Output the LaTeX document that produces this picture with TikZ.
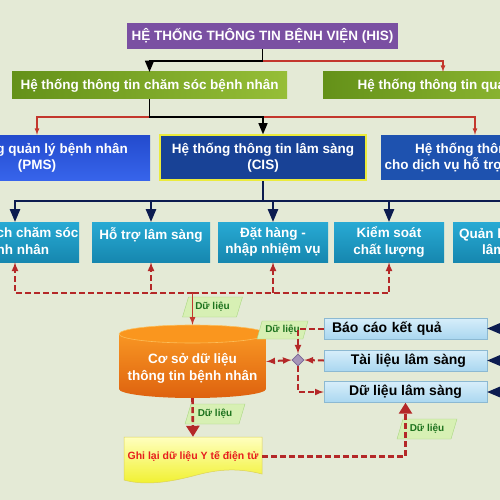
\documentclass[tikz,border=0pt]{standalone}
\usepackage{fontspec}
\setmainfont{Liberation Sans}
\usetikzlibrary{arrows,arrows.meta,shapes.geometric}

\definecolor{bgcol}{RGB}{228,234,214}
\definecolor{hiscol}{RGB}{122,80,162}
\definecolor{greenA}{RGB}{100,145,25}
\definecolor{greenB}{RGB}{150,190,55}
\definecolor{pmsA}{RGB}{35,75,205}
\definecolor{pmsB}{RGB}{55,100,235}
\definecolor{cisF}{RGB}{24,66,150}
\definecolor{cisD}{RGB}{235,235,60}
\definecolor{dvF}{RGB}{30,82,175}
\definecolor{cyanA}{RGB}{40,170,212}
\definecolor{cyanB}{RGB}{22,135,175}
\definecolor{infoA}{RGB}{215,238,250}
\definecolor{infoB}{RGB}{170,215,240}
\definecolor{infoD}{RGB}{140,185,210}
\definecolor{lblF}{RGB}{215,240,180}
\definecolor{lblD}{RGB}{170,215,130}
\definecolor{lblT}{RGB}{30,115,30}
\definecolor{orA}{RGB}{248,150,35}
\definecolor{orB}{RGB}{222,98,15}
\definecolor{orC}{RGB}{250,150,30}
\definecolor{orD}{RGB}{252,190,90}
\definecolor{yelA}{RGB}{255,255,190}
\definecolor{yelB}{RGB}{240,240,40}
\definecolor{yelD}{RGB}{220,210,90}
\definecolor{docT}{RGB}{230,30,30}
\definecolor{redA}{RGB}{195,55,45}
\definecolor{redB}{RGB}{180,40,40}
\definecolor{navyA}{RGB}{12,28,80}
\definecolor{dmF}{RGB}{165,150,185}
\definecolor{dmD}{RGB}{120,100,150}

\begin{document}
\begin{tikzpicture}[x=1pt,y=-1pt]
\tikzstyle{every node}=[inner sep=0pt, align=center, text=white, font=\fontsize{13.5}{16.5}\selectfont\bfseries]
\tikzstyle{hisbox}=[fill=hiscol, minimum width=271pt, minimum height=26pt]
\tikzstyle{greenbox}=[left color=greenA, right color=greenB, minimum height=27pt]
\tikzstyle{bluebox}=[minimum height=45pt]
\tikzstyle{cyanbox}=[top color=cyanA, bottom color=cyanB, minimum height=40pt]
\tikzstyle{infobox}=[top color=infoA, bottom color=infoB, draw=infoD, text=black, minimum width=163pt, minimum height=21pt, font=\fontsize{14}{16}\selectfont\bfseries]
\tikzstyle{datalabel}=[trapezium, trapezium left angle=65, trapezium right angle=115, trapezium stretches=true, fill=lblF, draw=lblD, text=lblT, minimum width=60pt, minimum height=20pt, font=\fontsize{10}{12}\selectfont\bfseries]
\tikzstyle{blackline}=[black, line width=1.6pt]
\tikzstyle{redline}=[redA, line width=1.2pt]
\tikzstyle{navyline}=[navyA, line width=2pt]
\tikzstyle{reddash}=[redB, line width=2pt, dash pattern=on 6pt off 3pt]
\tikzstyle{reddashbig}=[redB, line width=2.6pt, dash pattern=on 6pt off 3pt]
\useasboundingbox (0,0) rectangle (500,500);
\fill[bgcol] (0,0) rectangle (500,500);
\clip (0,0) rectangle (500,500);

% top levels
\node (his) at (262.5,36) [hisbox] {HỆ THỐNG THÔNG TIN BỆNH VIỆN (HIS)};
\node (cs) at (149.5,85.5) [greenbox, minimum width=275pt] {Hệ thống thông tin chăm sóc bệnh nhân};
\node (ql) at (443,85.5) [greenbox, minimum width=240pt] {Hệ thống thông tin quản lý};
\node (pms) at (37,157.5) [bluebox, top color=pmsA, bottom color=pmsB, minimum width=226pt] {Hệ thống quản lý bệnh nhân\\(PMS)};
\node (cis) at (263,157.5) [bluebox, fill=cisF, draw=cisD, line width=1.5pt, minimum width=206pt] {Hệ thống thông tin lâm sàng\\(CIS)};
\node (dv) at (475,157.5) [bluebox, fill=dvF, minimum width=188pt] {Hệ thống thông tin\\cho dịch vụ hỗ trợ lâm sàng};

% CIS modules
\node (ca) at (15,242) [cyanbox, minimum width=128pt] {Kế hoạch chăm sóc\\bệnh nhân};
\node (cb) at (151,242) [cyanbox, minimum width=118pt] {Hỗ trợ lâm sàng\\\mbox{}};
\node (cc) at (273,242) [cyanbox, minimum width=110pt] {Đặt hàng -\\nhập nhiệm vụ};
\node (cd) at (389,242) [cyanbox, minimum width=110pt] {Kiểm soát\\chất lượng};
\node (ce) at (508,242) [cyanbox, minimum width=110pt] {};
\node (ceta) at (459,238) [anchor=base west] {Quản lý};
\node (cetb) at (482,254.5) [anchor=base west] {lâm};

% database
\shade[top color=orA, bottom color=orB] (119,334) -- (119,389) arc[start angle=180, end angle=0, x radius=73.5, y radius=9] -- (266,334) -- cycle;
\filldraw[fill=orC, draw=orD, line width=0.6pt] (192.5,334) ellipse[x radius=73.5, y radius=9];
\node (db) at (192.5,361.5) [minimum width=147pt, minimum height=73pt] {};
\node (dbtext) at (192.5,368.5) {Cơ sở dữ liệu\\thông tin bệnh nhân};

% record
\shade[top color=yelA, bottom color=yelB] (124,437) -- (262,437) -- (262,474) .. controls (235,467) and (215,470) .. (193,476) .. controls (170,482) and (145,486) .. (124,480) -- cycle;
\draw[yelD, line width=0.5pt] (124,437) -- (262,437) -- (262,474) .. controls (235,467) and (215,470) .. (193,476) .. controls (170,482) and (145,486) .. (124,480) -- cycle;
\node (doc) at (193,456.5) [minimum width=138pt, minimum height=39pt, text=docT, font=\fontsize{10.5}{12}\selectfont\bfseries] {Ghi lại dữ liệu Y tế điện tử};

% clinical data
\node (bc) at (405.5,328.5) [infobox, text width=147pt, align=left, inner xsep=8pt] {Báo cáo kết quả};
\node (tl) at (405.5,360.5) [infobox, text width=121pt, align=right, inner xsep=21pt] {Tài liệu lâm sàng};
\node (dl) at (405.5,392) [infobox] {Dữ liệu lâm sàng};
\node (dm) at (298,360) [diamond, fill=dmF, draw=dmD, line width=0.6pt, minimum size=12pt] {};

\node (lb1) at (212.5,307) [datalabel] {Dữ liệu};
\node (lb2) at (215,414) [datalabel] {Dữ liệu};
\node (lb3) at (427,429) [datalabel] {Dữ liệu};
\node (lb4) at (282.5,330) [datalabel, minimum width=51pt, minimum height=18pt] {Dữ liệu};

\coordinate (j0) at (262.5,61);
\coordinate (j1) at (149.5,117);
\coordinate (j2) at (263,201);
\coordinate (j3) at (192.5,293);
\coordinate (r1) at (505,328.5);
\coordinate (r2) at (505,360.5);
\coordinate (r3) at (505,392);

\draw[redline,-latex] (j0) -| (ql.north);
\draw[blackline,-triangle 45] (his.south) -- (j0) -| (cs.north);
\draw[redline,-latex] (j1) -| (pms.north);
\draw[redline,-latex] (j1) -| (dv.north);
\draw[blackline,-triangle 45] (cs.south) -- (j1) -| (cis.north);
\draw[navyline] (cis.south) -- (j2);
\foreach \b in {ca,cb,cc,cd,ce} \draw[navyline,-triangle 45] (j2) -| (\b.north);
\foreach \b in {ca,cb,cc,cd} \draw[reddash,-latex] (j3) -| (\b.south);
\draw[redline,line width=1.6pt,-latex] (j3) -- (db.north);
\draw[reddashbig,-{Triangle[width=13pt,length=11pt]}] (db.south) -- (doc.north);
\draw[reddashbig,-{Triangle[width=13pt,length=11pt]}] (doc.east) -| (dl.south);
\draw[reddash,-latex] (bc.west) -| (dm.north);
\draw[reddash,-latex] (tl.west) -- (dm.east);
\draw[reddash,latex-latex] (dm.west) -- (db.east);
\draw[reddash,-latex] (dm.south) |- (dl.west);
\foreach \r/\b in {r1/bc,r2/tl,r3/dl} \draw[navyline,-triangle 45] (\r) -- (\b.east);
\end{tikzpicture}
\end{document}
